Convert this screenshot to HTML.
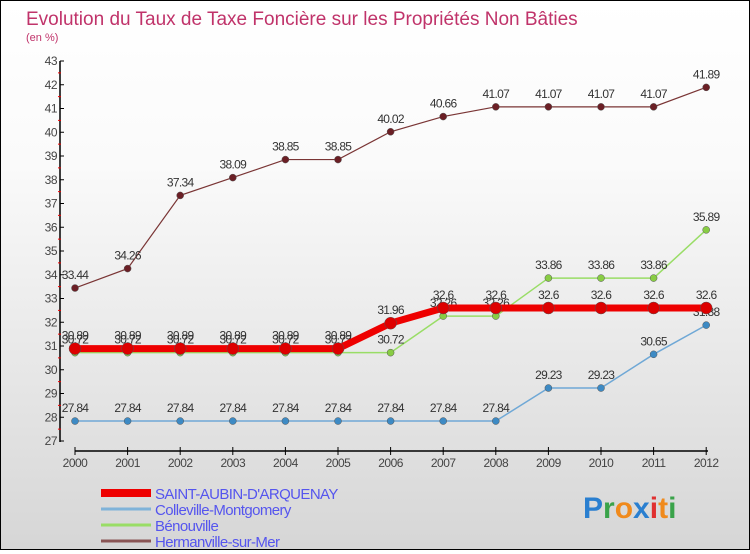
<!DOCTYPE html>
<html><head><meta charset="utf-8"><style>
body{margin:0}
#c{width:748px;height:548px;border:1px solid #000;background:linear-gradient(#fff,#fafafa 30%,#d6d6d6);position:relative;font-family:"Liberation Sans",sans-serif}
</style></head><body>
<div id="c">
<svg id="s" width="748" height="548"></svg>
</div>
<script>
const years=[2000,2001,2002,2003,2004,2005,2006,2007,2008,2009,2010,2011,2012];
const seriesNames=["SAINT-AUBIN-D'ARQUENAY","Colleville-Montgomery","Bénouville","Hermanville-sur-Mer"];
const saint=[30.89,30.89,30.89,30.89,30.89,30.89,31.96,32.6,32.6,32.6,32.6,32.6,32.6];
const colleville=[27.84,27.84,27.84,27.84,27.84,27.84,27.84,27.84,27.84,29.23,29.23,30.65,31.88];
const benouville=[30.72,30.72,30.72,30.72,30.72,30.72,30.72,32.26,32.26,33.86,33.86,33.86,35.89];
const hermanville=[33.44,34.26,37.34,38.09,38.85,38.85,40.02,40.66,41.07,41.07,41.07,41.07,41.89];
const yTicks=[27,28,29,30,31,32,33,34,35,36,37,38,39,40,41,42,43];
const NS="http://www.w3.org/2000/svg",s=document.getElementById('s');
const X=i=>74+i*52.6, Y=v=>440-(v-27)*23.75;
function el(t,a,txt,name,par){const e=document.createElementNS(NS,t);for(const k in a)e.setAttribute(k,a[k]);if(txt!=null)e.textContent=txt;


(par||s).appendChild(e);return e;}
el('text',{x:25,y:24,'font-size':19,fill:'#c0336a'},"Evolution du Taux de Taxe Foncière sur les Propriétés Non Bâties","chart-title");
el('text',{x:25,y:40,'font-size':11,fill:'#c0336a'},"(en %)","y-unit-label");
el('line',{x1:59,y1:60,x2:59,y2:441,stroke:'#000','stroke-width':1.5},null,"y-axis");
yTicks.forEach(v=>{el('line',{x1:59,x2:63,y1:Y(v),y2:Y(v),stroke:'#000'},null,"y-tick");
el('text',{x:56,y:Y(v)+4,'font-size':12,'text-anchor':'end',fill:'#444','letter-spacing':'-0.5'},v,"y-tick-label");
if(v<43)el('line',{x1:57,x2:60,y1:Y(v+0.5),y2:Y(v+0.5),stroke:'#e00'},null,"y-minor-tick");});
el('line',{x1:74,y1:450,x2:707,y2:450,stroke:'#000','stroke-width':1.5},null,"x-axis");
years.forEach((y,i)=>{el('line',{x1:X(i),x2:X(i),y1:446,y2:454,stroke:'#000'},null,"x-tick");
el('text',{x:X(i),y:466,'font-size':12,'text-anchor':'middle',fill:'#444','letter-spacing':'-0.5'},y,"x-tick-label");});
function series(d,col,w,r,name,fillc,lab){
el('polyline',{points:d.map((v,i)=>X(i)+','+Y(v)).join(' '),fill:'none',stroke:col,'stroke-width':w},null,name+'-line');
d.forEach((v,i)=>{el('circle',{cx:X(i),cy:Y(v),r:r,fill:fillc,stroke:'#555','stroke-width':0.5},null,name+'-point');
el('text',{x:X(i),y:Y(v)-9,'font-size':12,'text-anchor':'middle',fill:'#333','letter-spacing':'-0.7'},v,name+'-value');});}
series(hermanville,'#7a3535',1.2,3.5,'hermanville','#6b1f25');
series(colleville,'#6fa8d6',1.5,3.5,'colleville','#3d8ac4');
series(benouville,'#99dd66',1.5,3.5,'benouville','#88cc44');
series(saint,'#ee0000',7,6,'saint-aubin','#dd0000');
const lc=['#ee0000','#7fb3d9','#99dd66','#8a5555'],lw=[8,3,3,3];
seriesNames.forEach((n,i)=>{const y=492+i*16;
el('line',{x1:100,x2:150,y1:y,y2:y,stroke:lc[i],'stroke-width':lw[i]},null,"legend-swatch");
el('text',{x:154,y:y+6,'font-size':15,fill:'#5555ee','letter-spacing':'-0.6'},n,"legend-label");});
const lg=el('text',{x:582,y:517,'font-size':30,'font-weight':'bold'},null,"proxiti-logo");
[['P','#2a7fd0'],['r','#3aa34a'],['o','#f08a1c'],['x','#2a7fd0'],['i','#e03030'],['t','#f08a1c'],['i','#3aa34a']].forEach(([c,f])=>{el('tspan',{fill:f},c,"logo-letter",lg);});
</script>
</body></html>
